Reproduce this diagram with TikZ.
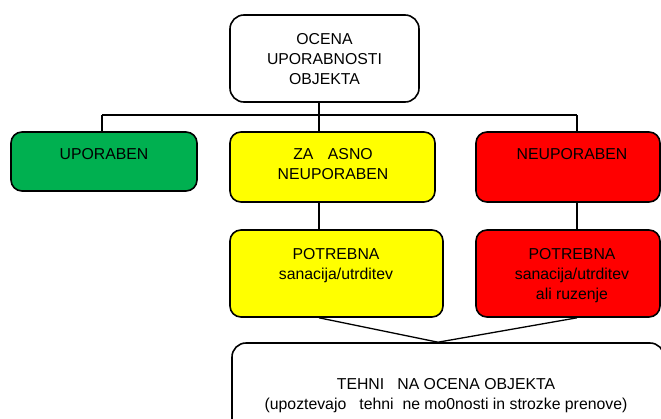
\documentclass[tikz,border=0pt]{standalone}
\usepackage{fontspec}
\setmainfont{Liberation Sans}
\definecolor{boxgreen}{HTML}{00B050}
\definecolor{boxyellow}{HTML}{FFFF00}
\definecolor{boxred}{HTML}{FF0000}
\tikzset{
  box/.style={draw=black, line width=1.6pt, rounded corners=11pt, rectangle, inner sep=0pt},
  txt/.style={font=\fontsize{15.8}{20}\selectfont, align=center, anchor=north, inner sep=0pt},
  conn/.style={draw=black, line width=1.3pt}
}
\begin{document}
\begin{tikzpicture}[x=1pt,y=-1pt]
\useasboundingbox (0,0) rectangle (661,418);
\clip (0,0) rectangle (661,418);
% boxes
\node[box, fill=white, minimum width=189pt, minimum height=87pt, rounded corners=14pt] (top) at (324.5,58.5) {};
\node[box, fill=boxgreen, minimum width=186pt, minimum height=59pt] (grn) at (104,161.5) {};
\node[box, fill=boxyellow, minimum width=205pt, minimum height=70pt] (yel1) at (332.5,167) {};
\node[box, fill=boxred, minimum width=184pt, minimum height=70pt] (red1) at (568,167) {};
\node[box, fill=boxyellow, minimum width=213pt, minimum height=87pt] (yel2) at (336.5,273.5) {};
\node[box, fill=boxred, minimum width=184pt, minimum height=87pt] (red2) at (568,273.5) {};
\node[box, fill=white, minimum width=432pt, minimum height=130pt, rounded corners=14pt] (bot) at (448,408) {};
% texts
\node[txt] (topt) at (324.5,33.5) {OCENA\\UPORABNOSTI\\OBJEKTA};
\node[txt] (grnt) at (104,148) {UPORABEN};
\node[txt] (yel1t) at (333,148) {ZA\hspace{14.5pt}ASNO\\NEUPORABEN};
\node[txt] (red1t) at (572,148) {NEUPORABEN};
\node[txt] (yel2t) at (336,248) {POTREBNA\\sanacija/utrditev};
\node[txt] (red2t) at (572,248) {POTREBNA\\sanacija/utrditev\\ali ruzenje};
\node[txt] (bott) at (446,378.5) {TEHNI\ \ \ NA OCENA OBJEKTA\\(upoztevajo\ \ \ tehni\ \ ne mo0nosti in strozke prenove)};
% junction coordinates
\coordinate (jm) at (319,115);
\coordinate (jl) at (102,115);
\coordinate (jr) at (577,115);
\coordinate (meet) at (438,343);
% connectors
\draw[conn] (top.south -| jm) -- (jm |- yel1.north);
\draw[conn] (jl) -- (jr);
\draw[conn] (jl) -- (jl |- grn.north);
\draw[conn] (jr) -- (jr |- red1.north);
\draw[conn] (jm |- yel1.south) -- (jm |- yel2.north);
\draw[conn] (jr |- red1.south) -- (jr |- red2.north);
\draw[conn] (jm |- yel2.south) -- (meet |- bot.north) -- (jr |- red2.south);
\end{tikzpicture}
\end{document}
